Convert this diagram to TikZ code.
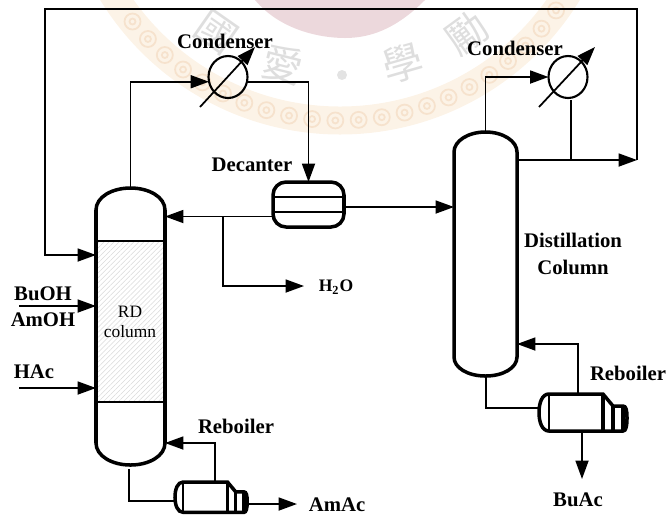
\documentclass[tikz,border=0pt]{standalone}
\usepackage{amsmath,amssymb}
\usepackage{fontspec}
\setmainfont{Liberation Serif}
\newfontfamily\cjk{Noto Sans CJK TC}
\usetikzlibrary{arrows.meta,patterns.meta,shapes.geometric}
\definecolor{sealring}{RGB}{252,243,231}
\definecolor{sealswirl}{RGB}{246,226,205}
\definecolor{sealpink}{RGB}{236,216,220}
\tikzset{
    pipe/.style={line width=1pt},
    stream/.style={pipe, -{Triangle[length=10.5pt,width=7.4pt]}},
    wall/.style={line width=2pt},
    tray/.style={line width=1.1pt},
    lab/.style={font=\fontsize{11.8}{13}\selectfont\bfseries, inner sep=0pt},
    shell/.style={inner sep=0pt, outer sep=0pt, minimum width=1.38cm, minimum height=5.54cm},
    condenser/.style={ellipse, draw, line width=1.2pt, inner sep=0pt, outer sep=0pt, minimum width=.78cm, minimum height=.84cm},
    decanter/.style={rectangle, draw, wall, rounded corners=.26cm, inner sep=0pt, outer sep=0pt, minimum width=1.42cm, minimum height=.9cm},
    seal/.style={text=gray!26, font=\cjk\fontsize{23}{23}\selectfont, inner sep=0pt},
    pics/reboiler/.style={code={
        \draw[wall] (10,0) -- (64,0) -- (74,12) -- (84,12) .. controls (87,12) and (88,16) .. (88,24)
            .. controls (88,32) and (87,37) .. (84,37) -- (10,37) .. controls (3,37) and (0,28) .. (0,18.5)
            .. controls (0,9) and (3,0) .. (10,0) -- cycle;
        \draw[tray] (10,0) -- (10,37);
        \draw[wall] (64,0) -- (64,37) (74,12) -- (74,37) (84,12) -- (84,37);
    }}
}
\begin{document}
\begin{tikzpicture}[x=0.02cm, y=-0.02cm]
    \useasboundingbox (0,0) rectangle (668,515);
    \begin{scope}
        \clip (0,0) rectangle (668,515);
        \fill[sealpink] (255,0) .. controls (280,30) and (320,38) .. (345,38) .. controls (375,38) and (400,25) .. (425,0) -- cycle;
        \begin{scope}[shift={(340,-146.5)}]
            \draw[sealring, line width=.56cm] (0,0) circle[radius=267];
            \foreach \a in {36,41,...,144}
                \draw[sealswirl, line width=1pt] (\a:267) circle[radius=8] (\a:267) circle[radius=3];
        \end{scope}
        \fill[gray!22] (342,75) circle[radius=5];
    \end{scope}
    \node[seal, rotate=-35] (sealA) at (216,32) {國};
    \node[seal, rotate=-14] (sealB) at (283,65) {愛};
    \node[seal, rotate=16] (sealC) at (403,63) {學};
    \node[seal, rotate=36] (sealD) at (467,33) {勵};

    \node[shell] (rd) at (130.5,326.5) {};
    \node[shell, minimum width=1.26cm, minimum height=4.88cm] (dist) at (485.5,254) {};
    \node[condenser] (condA) at (228,77) {};
    \node[condenser] (condB) at (568,77) {};
    \node[decanter] (dec) at (308.5,204.5) {};

    \fill[pattern={Lines[angle=45,distance=2pt,line width=.3pt]}, pattern color=gray!30] (96,241) rectangle (165,402);
    \draw[tray] (96,241) -- (165,241) (96,402) -- (165,402);
    \draw[wall] (96,210) .. controls (96,197) and (112,188) .. (130.5,188) .. controls (149,188) and (165,197) .. (165,210)
        -- (165,443) .. controls (165,456) and (149,465) .. (130.5,465) .. controls (112,465) and (96,456) .. (96,443) -- cycle;
    \draw[wall] (454,152) .. controls (454,141) and (468,132) .. (485.5,132) .. controls (503,132) and (517,141) .. (517,152)
        -- (517,357) .. controls (517,368) and (503,376) .. (485.5,376) .. controls (468,376) and (454,368) .. (454,357) -- cycle;
    \draw[tray] (273,197) -- (344,197) (273,212) -- (344,212);
    \pic[scale=.82] at (175,482) {reboiler};
    \pic at (539,394) {reboiler};

    \coordinate (condAlow) at (200,107);
    \coordinate (condAtip) at (255,47);
    \coordinate (condBlow) at (539,107);
    \coordinate (condBtip) at (595,47);
    \coordinate (reflux) at (45,255);
    \coordinate (topleft) at (45,9);
    \coordinate (feedA) at (19,306);
    \coordinate (feedB) at (19,388);
    \coordinate (decL) at (273,216.5);
    \coordinate (decR) at (344,207);
    \coordinate (decTee) at (223,216.5);
    \coordinate (waterEnd) at (304,286);
    \coordinate (distOut) at (517,160);
    \coordinate (distTee) at (571,160);
    \coordinate (distEnd) at (637,160);
    \coordinate (condBret) at (571,100);
    \coordinate (rdBot) at (129,469);
    \coordinate (rebAin) at (175,501);
    \coordinate (rebAup) at (215,482);
    \coordinate (rebAret) at (165,443);
    \coordinate (rebAout) at (247,504);
    \coordinate (rebAend) at (297,504);
    \coordinate (distBot) at (486,376);
    \coordinate (rebBin) at (539,408);
    \coordinate (rebBup) at (578,394);
    \coordinate (rebBret) at (517,344);
    \coordinate (rebBout) at (582,431);
    \coordinate (rebBend) at (582,479);

    \draw[stream] (condAlow) -- (condAtip);
    \draw[stream] (condBlow) -- (condBtip);
    \draw[stream] (rd.north) |- (condA.194);
    \draw[stream] (condA.-14) -| (dec.north);
    \draw[stream] (dist.north) |- (condB.west);
    \draw[stream] (decL) -- (decL -| rd.east);
    \draw[stream] (decR) -- (decR -| dist.west);
    \draw[stream] (decTee) |- (waterEnd);
    \draw[stream] (distOut) -- (distEnd);
    \draw[pipe] (distTee) -- (condBret);
    \draw[stream] (distEnd) |- (topleft) |- (reflux -| rd.west);
    \draw[stream] (feedA) -- (feedA -| rd.west);
    \draw[stream] (feedB) -- (feedB -| rd.west);
    \draw[pipe] (rdBot) |- (rebAin);
    \draw[stream] (rebAup) |- (rebAret);
    \draw[stream] (rebAout) -- (rebAend);
    \draw[pipe] (distBot) |- (rebBin);
    \draw[stream] (rebBup) |- (rebBret);
    \draw[stream] (rebBout) -- (rebBend);

    \node[lab] (condAlab) at (225,41) {Condenser};
    \node[lab] (condBlab) at (515,48) {Condenser};
    \node[lab] (declab) at (252,165) {Decanter};
    \node[lab] (waterlab) at (336,287) {\fontsize{10}{12}\selectfont H$_{\mathbf 2}$O};
    \node[lab, align=center] (distlab) at (573,253.5) {Distillation\\[2.4pt]Column};
    \node[lab] (buohlab) at (43,294) {BuOH};
    \node[lab] (amohlab) at (43,320) {AmOH};
    \node[lab] (haclab) at (34,372) {HAc};
    \node[inner sep=0pt, align=center, font=\fontsize{9.9}{11.6}\selectfont] (rdlab) at (130,322) {RD\\column};
    \node[lab] (rebAlab) at (236,426) {Reboiler};
    \node[lab] (rebBlab) at (628,373) {Reboiler};
    \node[lab] (amaclab) at (337,505) {AmAc};
    \node[lab] (buaclab) at (578,500) {BuAc};
\end{tikzpicture}
\end{document}
